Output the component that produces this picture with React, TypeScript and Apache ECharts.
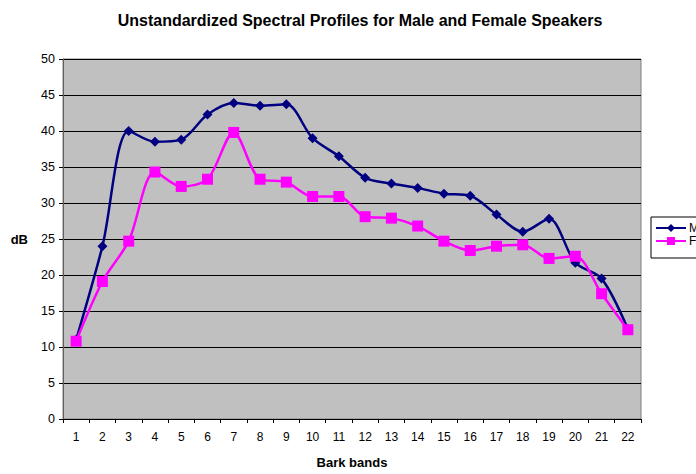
import React, { useEffect, useRef } from "react";
import * as echarts from "echarts";

const categories = ["1","2","3","4","5","6","7","8","9","10","11","12","13","14","15","16","17","18","19","20","21","22"];
const maleValues = [11, 24, 40, 38.5, 38.8, 42.3, 43.9, 43.5, 43.7, 39, 36.5, 33.5, 32.7, 32.1, 31.3, 31, 28.4, 26, 27.8, 21.7, 19.5, 12.5];
const femaleValues = [10.8, 19.1, 24.7, 34.3, 32.3, 33.3, 39.8, 33.3, 32.9, 30.9, 30.9, 28.1, 27.9, 26.8, 24.7, 23.4, 24, 24.2, 22.3, 22.6, 17.4, 12.4];

const FONT = "Liberation Sans, Arial, sans-serif";

export default function App() {
  const ref = useRef<HTMLDivElement>(null);
  useEffect(() => {
    if (!ref.current) return;
    const chart = echarts.init(ref.current, null, { renderer: "svg" });
    chart.setOption({
      animation: false,
      backgroundColor: "#ffffff",
      title: {
        text: "Unstandardized Spectral Profiles for Male and Female Speakers",
        left: 355,
        textAlign: "center",
        top: 7,
        textStyle: { fontFamily: FONT, fontSize: 16, fontWeight: "bold", color: "#000" },
      },
      legend: {
        left: 651,
        top: 217,
        orient: "vertical",
        backgroundColor: "#ffffff",
        borderColor: "#000",
        borderWidth: 1,
        borderRadius: 0,
        padding: [5, 6, 11, 4],
        itemWidth: 30,
        itemHeight: 10,
        itemGap: 1,
        textStyle: { fontFamily: FONT, fontSize: 12, color: "#000", padding: [0, 0, 0, -2] },
        data: ["Male", "Female"],
      },
      grid: { left: 63, right: 55, top: 59, bottom: 53, show: true, backgroundColor: "#c0c0c0", borderColor: "#808080", borderWidth: 1 },
      xAxis: {
        type: "category",
        data: categories,
        boundaryGap: true,
        name: "Bark bands",
        nameLocation: "middle",
        nameGap: 37,
        nameTextStyle: { fontFamily: FONT, fontSize: 13, fontWeight: "bold", color: "#000" },
        axisLine: { lineStyle: { color: "#000", width: 1 } },
        axisTick: { show: true, alignWithLabel: false, length: 4, lineStyle: { color: "#000" } },
        axisLabel: { fontFamily: FONT, fontSize: 12, color: "#000", margin: 12 },
        splitLine: { show: false },
      },
      yAxis: {
        type: "value",
        min: 0,
        max: 50,
        interval: 5,
        name: "dB",
        nameLocation: "middle",
        nameRotate: 0,
        nameGap: 35,
        nameTextStyle: { fontFamily: FONT, fontSize: 13, fontWeight: "bold", color: "#000" },
        axisLine: { show: true, lineStyle: { color: "#606060", width: 1 } },
        axisTick: { show: true, length: 4, lineStyle: { color: "#000" } },
        axisLabel: { fontFamily: FONT, fontSize: 12.5, color: "#000", margin: 8 },
        splitLine: { show: true, lineStyle: { color: "#000", width: 1 } },
      },
      series: [
        {
          name: "Male",
          type: "line",
          data: maleValues,
          smooth: 0.3,
          symbol: "diamond",
          symbolSize: 10,
          lineStyle: { color: "#000080", width: 2.5 },
          itemStyle: { color: "#000080" },
          z: 2,
        },
        {
          name: "Female",
          type: "line",
          data: femaleValues,
          smooth: 0.3,
          symbol: "rect",
          symbolSize: 11,
          lineStyle: { color: "#ff00ff", width: 2.5 },
          itemStyle: { color: "#ff00ff" },
          z: 3,
        },
      ],
    });
    return () => chart.dispose();
  }, []);
  return <div ref={ref} style={{ position: "fixed", left: 0, top: 0, width: 696, height: 474 }} />;
}
